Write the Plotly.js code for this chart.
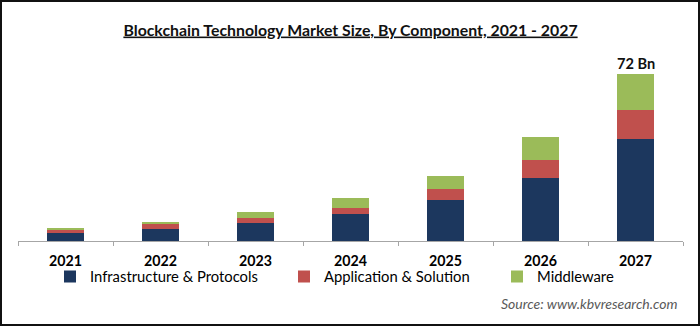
<!DOCTYPE html>
<html>
<head>
<meta charset="utf-8">
<script src="https://cdn.plot.ly/plotly-3.0.1.min.js"></script>
<style>
  html, body { margin: 0; padding: 0; background: #fff; }
  #chart { width: 700px; height: 326px; }
</style>
</head>
<body>
<div id="chart"></div>
<script>
// ---- data (USD Bn) ----
var years = ['2021', '2022', '2023', '2024', '2025', '2026', '2027'];
var infrastructure = [3.6, 5.2, 7.6, 11.6, 17.7, 27.3, 44.0];
var application = [1.0, 2.0, 2.2, 2.6, 4.9, 7.8, 12.5];
var middleware = [1.1, 1.1, 2.6, 4.3, 5.6, 9.8, 15.5];
var seriesNames = ['Infrastructure & Protocols', 'Application & Solution', 'Middleware'];
var totalLabel = '72 Bn';

var FONT = 'Lato, "Open Sans", sans-serif';
var colors = ['#1c375e', '#c0504d', '#9bbb59'];

// plot area in pixels: x 18..683, y 55..241
var L = 18, R = 17, T = 55, B = 85;
var W = 700 - L - R, H = 326 - T - B;
function px2x(px) { return (px - L) / W; }
function px2y(py) { return (326 - B - py) / H; }

var series = [infrastructure, application, middleware];
var legendIds = ['legend', 'legend2', 'legend3'];
var traces = series.map(function (vals, i) {
  return {
    type: 'bar',
    x: years,
    y: vals,
    name: seriesNames[i],
    marker: { color: colors[i], line: { width: 0 } },
    legend: legendIds[i],
    hoverinfo: 'x+y+name'
  };
});

var lastIdx = years.length - 1;
var lastTotal = infrastructure[lastIdx] + application[lastIdx] + middleware[lastIdx];

function legendAt(pxStart) {
  return {
    orientation: 'h',
    x: px2x(pxStart), xanchor: 'left',
    y: px2y(277), yanchor: 'middle',
    font: { family: FONT, size: 14.8, color: '#000' },
    bgcolor: 'rgba(0,0,0,0)',
    borderwidth: 0,
    itemclick: false, itemdoubleclick: false
  };
}

var layout = {
  width: 700, height: 326,
  margin: { l: L, r: R, t: T, b: B, pad: 0 },
  paper_bgcolor: '#ffffff',
  plot_bgcolor: '#ffffff',
  font: { family: FONT, color: '#000' },
  barmode: 'stack',
  bargap: 0.61,
  title: {
    text: '<b><u>Blockchain Technology Market Size, By Component, 2021 - 2027</u></b>',
    font: { family: FONT, size: 15.85, color: '#111' },
    x: 0.5, xref: 'paper', xanchor: 'center',
    y: 1 - 30 / 326, yref: 'container', yanchor: 'middle'
  },
  xaxis: {
    type: 'category',
    categoryorder: 'array', categoryarray: years,
    range: [-0.5, years.length - 0.5],
    tickson: 'boundaries',
    ticks: 'outside', ticklen: 4, tickwidth: 1, tickcolor: '#a6a6a6',
    showline: true, linecolor: '#a6a6a6', linewidth: 1,
    showgrid: false, zeroline: false,
    tickfont: { family: FONT, size: 14.2, color: '#000', weight: 'bold' },
    ticklabelstandoff: 7,
    tickangle: 0,
    fixedrange: true
  },
  yaxis: {
    visible: false,
    range: [0, H * 72 / 167],
    showgrid: false, zeroline: false,
    fixedrange: true
  },
  showlegend: true,
  legend: legendAt(50),
  legend2: legendAt(284),
  legend3: legendAt(497),
  annotations: [
    {
      x: lastIdx, y: lastTotal, xref: 'x', yref: 'y',
      text: '<b>' + totalLabel + '</b>',
      showarrow: false, xanchor: 'center', yanchor: 'bottom', yshift: 0,
      font: { family: FONT, size: 14.6, color: '#111' }
    },
    {
      x: px2x(679), y: px2y(303), xref: 'paper', yref: 'paper',
      text: '<i>Source: www.kbvresearch.com</i>',
      showarrow: false, xanchor: 'right', yanchor: 'middle',
      font: { family: FONT, size: 14, color: '#595959' }
    }
  ],
  shapes: [
    {
      type: 'rect', xref: 'paper', yref: 'paper',
      x0: px2x(1), x1: px2x(699), y0: px2y(325), y1: px2y(1),
      line: { color: '#111', width: 2 }, fillcolor: 'rgba(0,0,0,0)', layer: 'above'
    }
  ]
};

Plotly.newPlot('chart', traces, layout, { displayModeBar: false, staticPlot: true });
</script>
</body>
</html>
